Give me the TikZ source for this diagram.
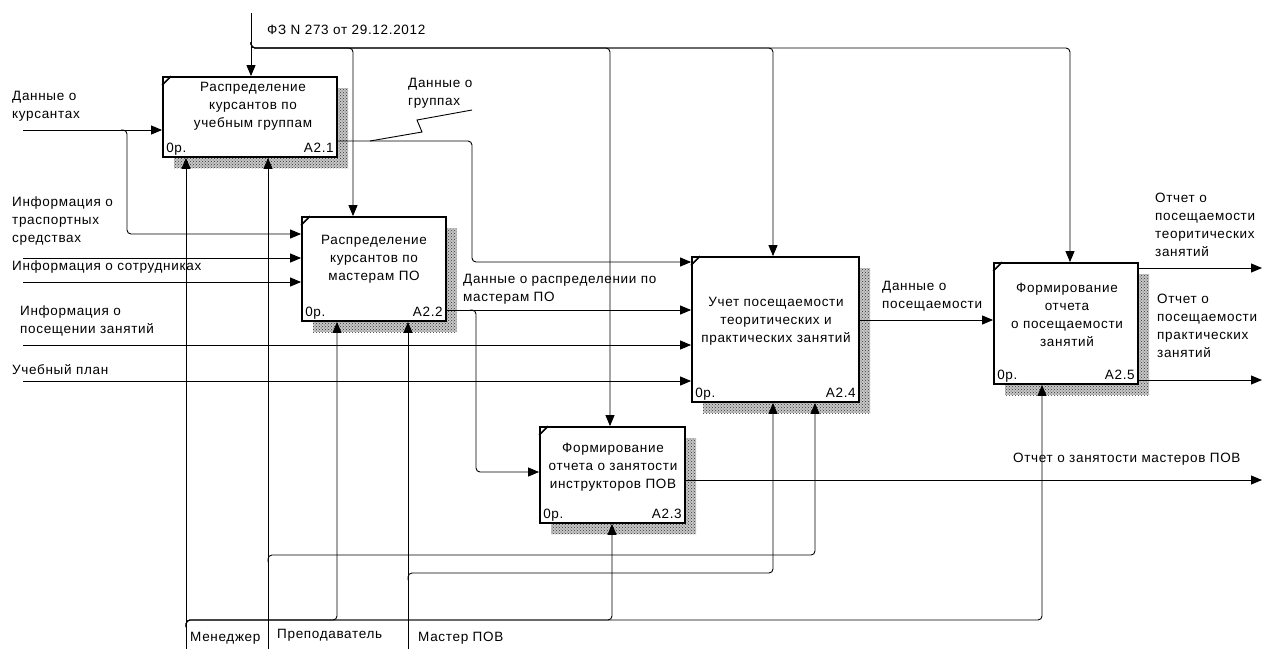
\documentclass[tikz,border=0pt]{standalone}
\usepackage{fontspec}
\setmainfont{Liberation Sans}[LetterSpace=5]
\usetikzlibrary{arrows.meta,patterns,shadows}
\newcommand{\idef}{\fontsize{13.5}{18}\selectfont}

\begin{document}
\begin{tikzpicture}[x=1pt, y=-1pt,
        func/.style={draw, line width=1.8pt, fill=white, inner sep=0pt,
            general shadow={shadow xshift=11pt, shadow yshift=-11pt, fill=black!22,
                postaction={pattern=crosshatch dots, pattern color=black!80}}},
        title/.style={align=center, font=\idef, inner sep=0pt},
        corner/.style={font=\idef, inner sep=0pt},
        tag/.style={align=left, anchor=west, font=\idef, inner sep=0pt},
        link/.style={draw, line width=0.9pt, rounded corners=4pt},
        arrow/.style={link, -{Triangle[length=11pt, width=9pt]}},
        tick/.style={draw, line width=1.5pt},
    ]
	\fill[white] (0,0) rectangle (1264,649);
	\useasboundingbox (0,0) rectangle (1264,649);
	% function boxes
	\node[func, minimum width=174, minimum height=80] (A21) at (250,117) {};
	\node[func, minimum width=144, minimum height=104] (A22) at (374,269) {};
	\node[func, minimum width=145, minimum height=96] (A23) at (612.5,475) {};
	\node[func, minimum width=167, minimum height=145] (A24) at (775.5,329.5) {};
	\node[func, minimum width=144, minimum height=121] (A25) at (1066,323.5) {};
	\foreach \b in {A21,A22,A23,A24,A25}
		\draw[tick] ([yshift=-9pt]\b.north west) -- ([xshift=9pt]\b.north west);
	\node[title] (t21) at (253,106) {Распределение\\курсантов по\\учебным группам};
	\node[title] (t22) at (374,259) {Распределение\\курсантов по\\мастерам ПО};
	\node[title] (t23) at (613,467) {Формирование\\отчета о занятости\\инструкторов ПОВ};
	\node[title] (t24) at (776,321) {Учет посещаемости\\теоритических и\\практических занятий};
	\node[title] (t25) at (1067,315) {Формирование\\отчета\\о посещаемости\\занятий};
	\foreach \b/\n in {A21/A2.1,A22/A2.2,A23/A2.3,A24/A2.4,A25/A2.5} {
		\node[corner, anchor=base west] (c\b) at ([shift={(4pt,5pt)}]\b.south west) {0р.};
		\node[corner, anchor=base east] (n\b) at ([shift={(-4pt,5pt)}]\b.south east) {\n};
	}
	% controls
	\coordinate (law) at (251,13);
	\coordinate (lawbus) at (251,42);
	\coordinate (c22) at (353,48);
	\coordinate (c23) at (610,48);
	\coordinate (c24) at (773,48);
	\coordinate (c25) at (1070,48);
	\draw[arrow] (law) -- (law |- A21.north);
	\draw[arrow] (lawbus) |- (c22) -- (c22 |- A22.north);
	\draw[arrow] (lawbus) |- (c23) -- (c23 |- A23.north);
	\draw[arrow] (lawbus) |- (c24) -- (c24 |- A24.north);
	\draw[arrow] (lawbus) |- (c25) -- (c25 |- A25.north);
	% mechanisms
	\coordinate (mgr) at (186,649);
	\coordinate (mgrbus) at (186,627);
	\coordinate (m22) at (337,620);
	\coordinate (m23) at (612,620);
	\coordinate (m25) at (1042,620);
	\draw[arrow] (mgr) -- (mgr |- A21.south);
	\draw[arrow] (mgrbus) |- (m22) -- (m22 |- A22.south);
	\draw[arrow] (mgrbus) |- (m23) -- (m23 |- A23.south);
	\draw[arrow] (mgrbus) |- (m25) -- (m25 |- A25.south);
	\coordinate (tch) at (268,649);
	\coordinate (tchbus) at (268,562);
	\coordinate (m24b) at (815,555);
	\draw[arrow] (tch) -- (tch |- A21.south);
	\draw[arrow] (tchbus) |- (m24b) -- (m24b |- A24.south);
	\coordinate (mst) at (408,649);
	\coordinate (mstbus) at (408,580);
	\coordinate (m24a) at (773,573);
	\draw[arrow] (mst) -- (mst |- A22.south);
	\draw[arrow] (mstbus) |- (m24a) -- (m24a |- A24.south);
	% inputs
	\coordinate (in1) at (23,130);
	\coordinate (in1bus) at (121,130);
	\coordinate (in1b) at (127,234);
	\coordinate (in2) at (23,258);
	\coordinate (in3) at (23,282);
	\coordinate (in4) at (23,345);
	\coordinate (in5) at (23,381);
	\draw[arrow] (in1) -- (in1 -| A21.west);
	\draw[arrow] (in1bus) -| (in1b) -- (in1b -| A22.west);
	\draw[arrow] (in2) -- (in2 -| A22.west);
	\draw[arrow] (in3) -- (in3 -| A22.west);
	\draw[arrow] (in4) -- (in4 -| A24.west);
	\draw[arrow] (in5) -- (in5 -| A24.west);
	% flows between boxes
	\coordinate (f1a) at (337,141);
	\coordinate (f1) at (472,262);
	\draw[arrow] (A21.east |- f1a) -| (f1) -- (f1 -| A24.west);
	\coordinate (f2) at (476,310);
	\coordinate (f2b) at (476,472);
	\draw[arrow] (A22.east |- f2) -- (A24.west |- f2);
	\draw[arrow] ([xshift=-6pt]f2) -- (f2) -- (f2b) -- (f2b -| A23.west);
	\coordinate (f3) at (870,320);
	\draw[arrow] (A24.east |- f3) -- (A25.west |- f3);
	% outputs
	\coordinate (out1) at (1262,268);
	\coordinate (out2) at (1262,380);
	\coordinate (out3) at (1262,480);
	\draw[arrow] (A25.east |- out1) -- (out1);
	\draw[arrow] (A25.east |- out2) -- (out2);
	\draw[arrow] (A23.east |- out3) -- (out3);
	% squiggle
	\coordinate (sq1) at (370,141);
	\coordinate (sq2) at (472,110);
	\draw[link, rounded corners=0pt] (sq1) -- (422,132) -- (417,120) -- (sq2);
	% arrow labels
	\node[tag] (lLaw) at (267,30) {ФЗ N 273 от 29.12.2012};
	\node[tag] (lIn1) at (12,106) {Данные о\\курсантах};
	\node[tag] (lGrp) at (408,93.5) {Данные о\\группах};
	\node[tag] (lIn2) at (12,221.5) {Информация о\\траспортных\\средствах};
	\node[tag] (lIn3) at (12,267) {Информация о сотрудниках};
	\node[tag] (lIn4) at (20,321) {Информация о\\посещении занятий};
	\node[tag] (lIn5) at (12,370) {Учебный план};
	\node[tag] (lDist) at (463,289) {Данные о распределении по\\мастерам ПО};
	\node[tag] (lAtt) at (882,296) {Данные о\\посещаемости};
	\node[tag] (lOut1) at (1155,224.5) {Отчет о\\посещаемости\\теоритических\\занятий};
	\node[tag] (lOut2) at (1157,326) {Отчет о\\посещаемости\\практических\\занятий};
	\node[tag] (lOut3) at (1013,459) {Отчет о занятости мастеров ПОВ};
	\node[tag] (lMgr) at (190,638) {Менеджер};
	\node[tag] (lTch) at (277,635) {Преподаватель};
	\node[tag] (lMst) at (418,638) {Мастер ПОВ};
\end{tikzpicture}
\end{document}
